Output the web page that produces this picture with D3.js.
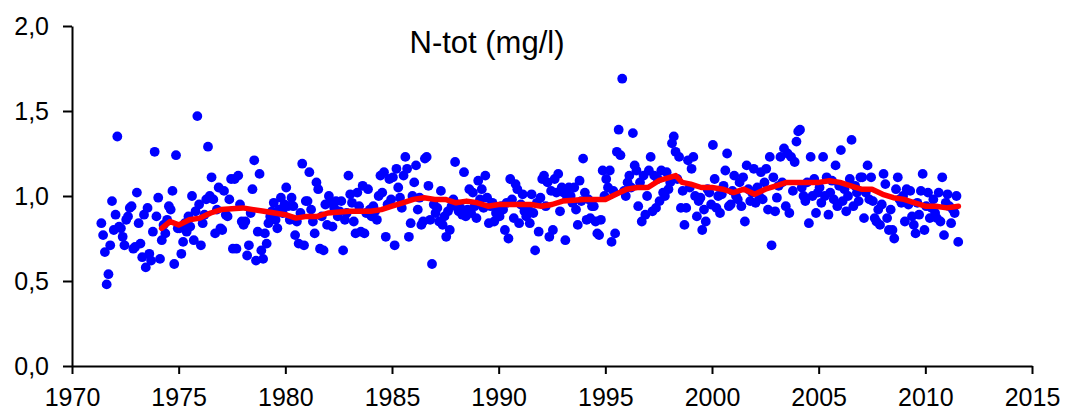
<!DOCTYPE html>
<html>
<head>
<meta charset="utf-8">
<script src="https://cdn.jsdelivr.net/npm/d3@7"></script>
<style>
  body { margin: 0; background: #fff; }
  text { font-family: "Liberation Sans", Arial, sans-serif; }
</style>
</head>
<body>
<div id="chart"></div>
<script>
// monthly N-tot values, one array per year (1971 starts in May, 2011 ends in July)
const startYear = 1971;
const startMonth = 4;
const nTot = [
  [0.84, 0.77, 0.67, 0.48, 0.54, 0.71, 0.97, 0.80],
  [0.89, 1.35, 0.82, 0.81, 0.76, 0.71, 0.86, 0.88, 0.93, 0.94, 0.69, 0.70],
  [1.02, 0.84, 0.72, 0.64, 0.89, 0.58, 0.93, 0.66, 0.62, 0.79, 1.26, 0.88],
  [0.99, 0.63, 0.74, 0.83, 0.78, 0.86, 0.94, 0.92, 1.03, 0.60, 1.24, 0.81],
  [0.81, 0.66, 0.73, 0.84, 0.79, 0.88, 0.82, 1.00, 0.74, 0.91, 1.47, 0.95],
  [0.71, 0.84, 0.89, 0.98, 1.29, 1.00, 1.11, 0.98, 0.78, 0.92, 1.05, 0.81],
  [0.80, 1.03, 0.89, 0.88, 0.98, 1.10, 0.69, 1.10, 0.69, 1.12, 0.95, 0.85],
  [0.83, 0.85, 0.65, 0.71, 0.90, 1.04, 1.21, 0.62, 0.79, 1.13, 0.68, 0.63],
  [0.78, 0.72, 0.84, 0.88, 0.91, 0.96, 0.86, 0.81, 0.92, 0.99, 0.90, 0.95],
  [1.05, 0.94, 0.86, 0.99, 0.94, 0.77, 0.85, 0.72, 0.90, 1.19, 0.71, 0.97],
  [0.97, 1.14, 0.92, 0.85, 0.78, 1.08, 1.04, 0.69, 0.88, 0.68, 0.95, 0.83],
  [1.00, 0.96, 0.82, 0.93, 0.97, 0.88, 0.91, 0.97, 0.68, 0.86, 0.90, 1.12],
  [1.01, 0.96, 0.85, 0.78, 1.02, 0.94, 0.79, 1.06, 0.78, 0.90, 1.04, 0.92],
  [0.88, 0.94, 0.91, 0.86, 1.00, 1.12, 1.02, 1.14, 0.76, 0.95, 1.10, 0.98],
  [1.11, 0.71, 1.16, 1.05, 0.99, 0.93, 1.12, 1.23, 1.16, 0.76, 0.84, 1.00],
  [1.08, 1.18, 0.92, 0.99, 0.83, 0.85, 1.22, 1.23, 1.06, 0.86, 0.60, 0.95],
  [0.90, 0.93, 0.85, 1.03, 0.83, 0.88, 0.76, 0.91, 0.80, 0.94, 0.98, 1.20],
  [0.95, 0.91, 0.93, 0.89, 1.14, 0.88, 0.92, 1.04, 0.90, 1.02, 0.94, 0.87],
  [1.09, 0.98, 1.04, 0.93, 1.12, 0.99, 0.84, 0.94, 0.96, 0.85, 0.90, 0.91],
  [0.88, 0.94, 0.92, 0.80, 0.96, 0.75, 1.10, 0.98, 0.87, 1.07, 1.04, 0.84],
  [0.95, 1.01, 0.91, 0.88, 0.93, 0.84, 1.01, 0.90, 0.68, 0.96, 0.79, 0.99],
  [1.10, 1.12, 0.94, 1.08, 0.76, 1.03, 0.80, 1.10, 1.02, 1.13, 0.91, 1.05],
  [1.02, 0.74, 0.99, 1.05, 1.00, 0.96, 1.05, 0.92, 0.83, 1.09, 0.97, 1.22],
  [1.02, 0.86, 0.98, 0.87, 0.94, 0.94, 0.85, 0.78, 0.77, 0.86, 1.15, 1.00],
  [1.10, 1.05, 1.15, 0.73, 1.03, 0.78, 1.26, 1.39, 1.24, 1.69, 1.03, 1.00],
  [1.08, 1.12, 1.05, 1.37, 1.18, 1.15, 0.94, 1.08, 0.85, 1.12, 0.89, 1.00],
  [1.15, 1.23, 0.91, 1.12, 0.93, 1.10, 0.97, 1.15, 1.02, 1.00, 1.14, 1.04],
  [1.08, 1.31, 1.35, 1.26, 1.10, 1.23, 0.93, 1.03, 0.83, 0.93, 1.21, 1.05],
  [1.16, 1.23, 1.00, 0.88, 0.97, 0.99, 0.80, 0.92, 0.85, 1.04, 1.02, 0.95],
  [1.30, 1.10, 0.93, 1.00, 0.90, 1.01, 1.06, 1.15, 1.25, 0.94, 0.95, 1.03],
  [1.12, 1.00, 0.98, 1.08, 0.94, 1.11, 0.85, 1.18, 1.04, 0.97, 1.02, 1.16],
  [0.96, 1.05, 1.00, 1.14, 0.98, 1.08, 1.16, 0.92, 1.23, 0.71, 1.11, 0.91],
  [0.99, 1.06, 1.23, 1.08, 1.28, 0.94, 1.25, 0.90, 1.23, 1.03, 1.20, 1.32],
  [1.38, 1.39, 1.05, 1.00, 0.97, 1.08, 0.84, 1.23, 1.00, 1.10, 0.90, 1.02],
  [1.05, 0.96, 1.23, 1.00, 1.11, 0.89, 1.02, 1.09, 0.98, 1.18, 0.94, 1.06],
  [1.27, 0.97, 1.04, 0.91, 1.00, 1.10, 1.33, 0.94, 1.06, 1.02, 0.97, 1.11],
  [1.11, 0.87, 1.02, 1.18, 0.98, 1.11, 0.97, 0.87, 0.85, 0.92, 0.83, 0.95],
  [1.13, 1.07, 0.87, 0.80, 0.92, 0.80, 0.75, 1.04, 1.11, 0.98, 0.96, 1.00],
  [0.85, 1.04, 0.95, 1.03, 0.88, 0.83, 0.78, 0.96, 0.89, 1.03, 1.13, 0.80],
  [0.94, 1.02, 0.87, 0.93, 0.98, 0.90, 0.87, 1.02, 0.85, 1.11, 0.77, 0.96],
  [1.01, 0.94, 0.84, 0.92, 0.90, 1.00, 0.73]
];

// running mean (red line)
const trendYears = [1974.2, 1974.6, 1975.0, 1975.5, 1976.0, 1976.5, 1977.0, 1978.0, 1978.5, 1979.0,
  1980.0, 1980.5, 1981.0, 1981.5, 1982.0, 1983.0, 1984.0, 1984.5, 1985.0, 1985.5,
  1986.0, 1986.5, 1987.0, 1987.5, 1988.0, 1988.5, 1989.0, 1989.5, 1990.0, 1990.5,
  1991.0, 1991.5, 1992.0, 1992.5, 1993.0, 1994.0, 1994.5, 1995.0, 1995.5, 1996.0,
  1996.5, 1997.0, 1997.5, 1998.3, 1998.6, 1999.0, 1999.5, 2000.0, 2000.5, 2001.0,
  2001.5, 2002.0, 2002.5, 2003.0, 2003.5, 2004.0, 2004.5, 2005.0, 2005.5, 2006.0,
  2006.5, 2007.0, 2007.5, 2008.0, 2008.5, 2009.0, 2009.5, 2010.0, 2010.5, 2011.0, 2011.55];
const trendValues = [0.81, 0.85, 0.83, 0.86, 0.87, 0.90, 0.92, 0.93, 0.92, 0.91,
  0.89, 0.87, 0.88, 0.88, 0.90, 0.91, 0.91, 0.92, 0.94, 0.96,
  0.98, 0.99, 0.98, 0.98, 0.96, 0.97, 0.96, 0.94, 0.95, 0.95,
  0.95, 0.95, 0.94, 0.95, 0.97, 0.98, 0.98, 0.98, 1.01, 1.04,
  1.05, 1.05, 1.09, 1.12, 1.08, 1.07, 1.05, 1.05, 1.04, 1.02,
  1.04, 1.01, 1.04, 1.06, 1.08, 1.08, 1.08, 1.08, 1.09, 1.08,
  1.06, 1.04, 1.04, 1.01, 0.99, 0.98, 0.96, 0.94, 0.94, 0.93, 0.94];

const xTicks = [1970, 1975, 1980, 1985, 1990, 1995, 2000, 2005, 2010, 2015];
const yTicks = [0, 0.5, 1.0, 1.5, 2.0];
const title = "N-tot (mg/l)";

const width = 1069, height = 410;
const margin = { top: 26, right: 37, bottom: 44, left: 72 };

const points = [];
nTot.forEach((months, i) => {
  const first = i === 0 ? startMonth : 0;
  months.forEach((v, j) => {
    points.push({ t: startYear + i + (first + j + 0.5) / 12, v: v });
  });
});
const trend = trendYears.map((t, i) => ({ t: t, v: trendValues[i] }));

const locale = d3.formatLocale({ decimal: ",", thousands: " ", grouping: [3], currency: ["", ""] });
const fmt = locale.format(".1f");

const x = d3.scaleLinear().domain([1970, 2015]).range([margin.left, width - margin.right]);
const y = d3.scaleLinear().domain([0, 2]).range([height - margin.bottom, margin.top]);

const svg = d3.select("#chart").append("svg")
  .attr("width", width)
  .attr("height", height);

svg.append("g")
  .selectAll("circle")
  .data(points)
  .join("circle")
  .attr("cx", d => x(d.t))
  .attr("cy", d => y(d.v))
  .attr("r", 4.9)
  .attr("fill", "#0000ff");

const line = d3.line().x(d => x(d.t)).y(d => y(d.v));
svg.append("path")
  .datum(trend)
  .attr("d", line)
  .attr("fill", "none")
  .attr("stroke", "#ff0000")
  .attr("stroke-width", 5.5)
  .attr("stroke-linejoin", "round")
  .attr("stroke-linecap", "round");

const yAxis = svg.append("g")
  .attr("transform", `translate(${margin.left},0)`)
  .call(d3.axisLeft(y).tickValues(yTicks).tickFormat(fmt).tickSize(9).tickSizeOuter(0).tickPadding(14));

const xAxis = svg.append("g")
  .attr("transform", `translate(0,${height - margin.bottom})`)
  .call(d3.axisBottom(x).tickValues(xTicks).tickFormat(d3.format("d")).tickSize(8).tickSizeOuter(0).tickPadding(14));

[yAxis, xAxis].forEach(g => {
  g.select(".domain").attr("stroke", "#000").attr("stroke-width", 2);
  g.selectAll(".tick line").attr("stroke", "#000").attr("stroke-width", 2);
  g.selectAll(".tick text")
    .attr("fill", "#000")
    .style("font-size", "25px")
    .style("font-family", "'Liberation Sans', Arial, sans-serif");
});

svg.append("text")
  .attr("x", 487)
  .attr("y", 53)
  .attr("text-anchor", "middle")
  .style("font-size", "31px")
  .attr("fill", "#000")
  .text(title);
</script>
</body>
</html>
